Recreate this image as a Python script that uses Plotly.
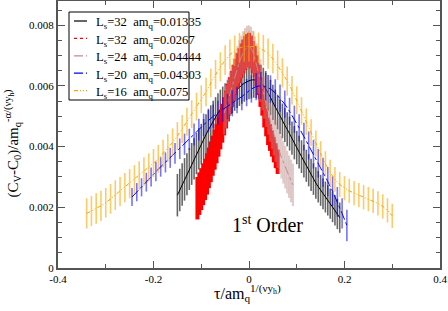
import plotly.graph_objects as go

# ---------------- data ----------------
black_x = [-0.150, -0.145, -0.140, -0.135, -0.130, -0.125, -0.120, -0.115, -0.110, -0.105,
           -0.100, -0.095, -0.090, -0.085, -0.080, -0.075, -0.070, -0.065, -0.060, -0.055,
           -0.050, -0.045, -0.040, -0.035, -0.030, -0.025, -0.020, -0.015, -0.010, -0.005,
           0.000, 0.005, 0.010, 0.015, 0.020, 0.025, 0.030, 0.035, 0.040, 0.045,
           0.050, 0.055, 0.060, 0.065, 0.070, 0.075, 0.080, 0.085, 0.090, 0.095,
           0.100, 0.105, 0.110, 0.115, 0.120, 0.125, 0.130, 0.135, 0.140, 0.145,
           0.150, 0.155, 0.160, 0.165, 0.170, 0.175, 0.180, 0.185, 0.190]
black_y = [0.00240, 0.00257, 0.00275, 0.00292, 0.00309, 0.00326, 0.00343, 0.00360, 0.00377, 0.00393,
           0.00408, 0.00424, 0.00440, 0.00455, 0.00470, 0.00485, 0.00498, 0.00511, 0.00523, 0.00534,
           0.00545, 0.00555, 0.00564, 0.00573, 0.00581, 0.00589, 0.00596, 0.00603, 0.00609, 0.00614,
           0.00617, 0.00620, 0.00621, 0.00620, 0.00616, 0.00610, 0.00601, 0.00590, 0.00577, 0.00562,
           0.00546, 0.00530, 0.00514, 0.00499, 0.00485, 0.00471, 0.00457, 0.00443, 0.00428, 0.00413,
           0.00397, 0.00382, 0.00367, 0.00352, 0.00337, 0.00322, 0.00307, 0.00293, 0.00280, 0.00268,
           0.00256, 0.00245, 0.00234, 0.00223, 0.00212, 0.00201, 0.00190, 0.00178, 0.00166]
black_err = [0.00070, 0.00070, 0.00070, 0.00070, 0.00069, 0.00069, 0.00069, 0.00068, 0.00068, 0.00068,
             0.00067, 0.00067, 0.00067, 0.00066, 0.00066, 0.00066, 0.00065, 0.00065, 0.00065, 0.00064,
             0.00064, 0.00064, 0.00063, 0.00063, 0.00063, 0.00062, 0.00062, 0.00062, 0.00061, 0.00061,
             0.00061, 0.00061, 0.00060, 0.00060, 0.00060, 0.00060, 0.00059, 0.00059, 0.00059, 0.00058,
             0.00058, 0.00058, 0.00057, 0.00057, 0.00057, 0.00056, 0.00056, 0.00056, 0.00055, 0.00055,
             0.00055, 0.00054, 0.00054, 0.00054, 0.00053, 0.00053, 0.00053, 0.00052, 0.00052, 0.00052,
             0.00051, 0.00051, 0.00051, 0.00050, 0.00050, 0.00050, 0.00050, 0.00050, 0.00050]

red_x = [-0.108, -0.104, -0.100, -0.096, -0.092, -0.088, -0.084, -0.080, -0.076, -0.072,
         -0.068, -0.064, -0.060, -0.056, -0.052, -0.048, -0.044, -0.040, -0.036, -0.032,
         -0.028, -0.024, -0.020, -0.016, -0.012, -0.008, -0.004, 0.000, 0.004, 0.008,
         0.012, 0.016, 0.020, 0.024, 0.028, 0.032, 0.036, 0.040, 0.044, 0.048,
         0.052, 0.056, 0.060]
red_y = [0.00230, 0.00245, 0.00260, 0.00276, 0.00292, 0.00310, 0.00330, 0.00350, 0.00370, 0.00390,
         0.00410, 0.00432, 0.00455, 0.00477, 0.00500, 0.00522, 0.00545, 0.00568, 0.00590, 0.00610,
         0.00630, 0.00650, 0.00667, 0.00683, 0.00697, 0.00708, 0.00716, 0.00720, 0.00712, 0.00695,
         0.00680, 0.00650, 0.00620, 0.00580, 0.00550, 0.00510, 0.00480, 0.00450, 0.00430, 0.00410,
         0.00390, 0.00370, 0.00350]
red_err = [0.00070, 0.00070, 0.00069, 0.00069, 0.00068, 0.00068, 0.00067, 0.00067, 0.00066, 0.00066,
           0.00065, 0.00065, 0.00064, 0.00064, 0.00063, 0.00062, 0.00062, 0.00061, 0.00060, 0.00060,
           0.00059, 0.00058, 0.00058, 0.00057, 0.00056, 0.00056, 0.00055, 0.00055, 0.00054, 0.00053,
           0.00052, 0.00051, 0.00050, 0.00049, 0.00048, 0.00047, 0.00046, 0.00045, 0.00044, 0.00043,
           0.00042, 0.00041, 0.00040]

brown_x = [-0.052, -0.048, -0.044, -0.040, -0.036, -0.032, -0.028, -0.024, -0.020, -0.016,
           -0.012, -0.008, -0.004, 0.000, 0.004, 0.008, 0.012, 0.016, 0.020, 0.024,
           0.028, 0.032, 0.036, 0.040, 0.044, 0.048, 0.052, 0.056, 0.060, 0.064,
           0.068, 0.072, 0.076, 0.080, 0.084, 0.088, 0.092]
brown_y = [0.00510, 0.00532, 0.00555, 0.00577, 0.00600, 0.00622, 0.00642, 0.00662, 0.00680, 0.00696,
           0.00710, 0.00721, 0.00728, 0.00730, 0.00725, 0.00712, 0.00693, 0.00670, 0.00645, 0.00618,
           0.00590, 0.00562, 0.00535, 0.00510, 0.00486, 0.00463, 0.00441, 0.00420, 0.00400, 0.00382,
           0.00365, 0.00348, 0.00332, 0.00316, 0.00301, 0.00287, 0.00274]
brown_err = [0.00070, 0.00070, 0.00070, 0.00070, 0.00070, 0.00070, 0.00070, 0.00070, 0.00070, 0.00070,
             0.00070, 0.00070, 0.00070, 0.00070, 0.00070, 0.00070, 0.00070, 0.00070, 0.00070, 0.00070,
             0.00070, 0.00070, 0.00070, 0.00070, 0.00070, 0.00070, 0.00070, 0.00070, 0.00070, 0.00070,
             0.00070, 0.00070, 0.00070, 0.00070, 0.00070, 0.00070, 0.00070]

blue_x = [-0.245, -0.235, -0.225, -0.215, -0.205, -0.195, -0.185, -0.175, -0.165, -0.155,
          -0.145, -0.135, -0.125, -0.115, -0.105, -0.095, -0.085, -0.075, -0.065, -0.055,
          -0.045, -0.035, -0.025, -0.015, -0.005, 0.005, 0.015, 0.025, 0.035, 0.045,
          0.055, 0.065, 0.075, 0.085, 0.095, 0.105, 0.115, 0.125, 0.135, 0.145,
          0.155, 0.165, 0.175, 0.185, 0.195, 0.205]
blue_y = [0.00234, 0.00250, 0.00266, 0.00283, 0.00300, 0.00318, 0.00333, 0.00348, 0.00363, 0.00378,
          0.00393, 0.00408, 0.00424, 0.00440, 0.00456, 0.00472, 0.00487, 0.00500, 0.00512, 0.00522,
          0.00532, 0.00543, 0.00554, 0.00565, 0.00578, 0.00590, 0.00598, 0.00601, 0.00598, 0.00590,
          0.00577, 0.00560, 0.00540, 0.00516, 0.00490, 0.00462, 0.00433, 0.00404, 0.00375, 0.00345,
          0.00315, 0.00285, 0.00253, 0.00218, 0.00180, 0.00140]
blue_err = [0.00030, 0.00030, 0.00030, 0.00031, 0.00031, 0.00032, 0.00032, 0.00033, 0.00033, 0.00034,
            0.00034, 0.00035, 0.00035, 0.00036, 0.00036, 0.00037, 0.00038, 0.00039, 0.00040, 0.00041,
            0.00042, 0.00043, 0.00044, 0.00045, 0.00045, 0.00045, 0.00045, 0.00045, 0.00045, 0.00045,
            0.00045, 0.00045, 0.00045, 0.00045, 0.00045, 0.00045, 0.00046, 0.00046, 0.00047, 0.00047,
            0.00048, 0.00048, 0.00049, 0.00049, 0.00050, 0.00052]

orange_x = [-0.34, -0.33, -0.32, -0.31, -0.30, -0.29, -0.28, -0.27, -0.26, -0.25,
            -0.24, -0.23, -0.22, -0.21, -0.20, -0.19, -0.18, -0.17, -0.16, -0.15,
            -0.14, -0.13, -0.12, -0.11, -0.10, -0.09, -0.08, -0.07, -0.06, -0.05,
            -0.04, -0.03, -0.02, -0.01, 0.00, 0.01, 0.02, 0.03, 0.04, 0.05,
            0.06, 0.07, 0.08, 0.09, 0.10, 0.11, 0.12, 0.13, 0.14, 0.15,
            0.16, 0.17, 0.18, 0.19, 0.20, 0.21, 0.22, 0.23, 0.24, 0.25,
            0.26, 0.27, 0.28, 0.29, 0.30]
orange_y = [0.00180, 0.00188, 0.00196, 0.00205, 0.00215, 0.00228, 0.00240, 0.00252, 0.00265, 0.00278,
            0.00292, 0.00305, 0.00318, 0.00332, 0.00346, 0.00360, 0.00377, 0.00395, 0.00414, 0.00435,
            0.00458, 0.00482, 0.00507, 0.00532, 0.00556, 0.00580, 0.00610, 0.00638, 0.00663, 0.00685,
            0.00703, 0.00716, 0.00725, 0.00730, 0.00731, 0.00730, 0.00726, 0.00718, 0.00706, 0.00690,
            0.00668, 0.00643, 0.00616, 0.00586, 0.00553, 0.00518, 0.00482, 0.00446, 0.00410, 0.00375,
            0.00343, 0.00315, 0.00292, 0.00275, 0.00263, 0.00254, 0.00247, 0.00240, 0.00233, 0.00227,
            0.00221, 0.00213, 0.00203, 0.00190, 0.00172]
orange_err = [0.00050, 0.00050, 0.00050, 0.00050, 0.00049, 0.00049, 0.00049, 0.00048, 0.00048, 0.00048,
              0.00047, 0.00047, 0.00047, 0.00046, 0.00046, 0.00046, 0.00046, 0.00046, 0.00046, 0.00046,
              0.00046, 0.00046, 0.00046, 0.00046, 0.00046, 0.00047, 0.00047, 0.00048, 0.00048, 0.00049,
              0.00050, 0.00050, 0.00050, 0.00050, 0.00050, 0.00050, 0.00050, 0.00050, 0.00050, 0.00049,
              0.00049, 0.00048, 0.00048, 0.00047, 0.00046, 0.00045, 0.00044, 0.00044, 0.00043, 0.00043,
              0.00042, 0.00042, 0.00041, 0.00041, 0.00040, 0.00040, 0.00040, 0.00040, 0.00040, 0.00040,
              0.00040, 0.00040, 0.00040, 0.00040, 0.00040]

series_names = ["L<sub>s</sub>=32\u00a0\u00a0am<sub>q</sub>=0.01335",
                "L<sub>s</sub>=32\u00a0\u00a0am<sub>q</sub>=0.0267",
                "L<sub>s</sub>=24\u00a0\u00a0am<sub>q</sub>=0.04444",
                "L<sub>s</sub>=20\u00a0\u00a0am<sub>q</sub>=0.04303",
                "L<sub>s</sub>=16\u00a0\u00a0am<sub>q</sub>=0.075"]

x_tickvals = [-0.4, -0.2, 0.0, 0.2, 0.4]
x_ticktext = ["-0.4", "-0.2", "0", "0.2", "0.4"]
y_tickvals = [0.0, 0.002, 0.004, 0.006, 0.008]
y_ticktext = ["0", "0.002", "0.004", "0.006", "0.008"]

# ---------------- figure ----------------
SERIF = "Liberation Serif, Times New Roman, serif"
W, H = 448, 311
ML, MR, MT, MB = 58, 8, 1, 43
PW, PH = W - ML - MR, H - MT - MB


def px_to_paper_x(px):
    return (px - ML) / PW


def px_to_paper_y(py):
    return (H - MB - py) / PH


styles = [
    dict(line=dict(color="black", width=1, dash="solid"), err="rgba(0,0,0,0.6)", th=1.6),
    dict(line=dict(color="red", width=1, dash="dot"), err="rgba(255,0,0,1)", th=4),
    dict(line=dict(color="#bc8f8f", width=1, dash="dashdot"), err="rgba(188,143,143,0.45)", th=2.2),
    dict(line=dict(color="blue", width=1, dash="dashdot"), err="rgba(0,0,255,0.55)", th=1.6),
    dict(line=dict(color="#ffa500", width=1, dash="4px,2px,1px,2px,1px,2px"), err="rgba(255,165,0,0.6)", th=1.6),
]
data = [(black_x, black_y, black_err), (red_x, red_y, red_err), (brown_x, brown_y, brown_err),
        (blue_x, blue_y, blue_err), (orange_x, orange_y, orange_err)]

fig = go.Figure()
for (xs, ys, es), st, nm in zip(data, styles, series_names):
    fig.add_trace(go.Scatter(
        x=xs, y=ys, mode="lines", name=nm, line=st["line"], showlegend=False,
        error_y=dict(type="data", array=es, visible=True, color=st["err"],
                     thickness=st["th"], width=0),
    ))

axis_common = dict(
    showline=True, linecolor="#555555", linewidth=2, mirror="ticks",
    ticks="inside", ticklen=7, tickwidth=1, tickcolor="#555555",
    showgrid=False, zeroline=False, automargin=False,
    tickfont=dict(family=SERIF, size=11, color="black"),
)

fig.update_layout(
    width=W, height=H,
    margin=dict(l=ML, r=MR, t=MT, b=MB),
    paper_bgcolor="white", plot_bgcolor="white",
    font=dict(family=SERIF, color="black"),
    showlegend=False,
    xaxis=dict(range=[-0.4, 0.4], tickvals=x_tickvals, ticktext=x_ticktext,
               minor=dict(dtick=0.1, ticklen=4, ticks="inside", tickcolor="#555555"),
               **axis_common),
    yaxis=dict(range=[0, 0.0088], tickvals=y_tickvals, ticktext=y_ticktext,
               minor=dict(dtick=0.0005, ticklen=4, ticks="inside", tickcolor="#555555"),
               **axis_common),
)

# ---- legend box (compact, drawn as layout decoration) ----
LEG_L, LEG_T, LEG_R, LEG_B = 69, 12, 189, 100
ROW0, ROW_H = 21, 17.4
fig.add_shape(type="rect", xref="paper", yref="paper",
              x0=px_to_paper_x(LEG_L), x1=px_to_paper_x(LEG_R),
              y0=px_to_paper_y(LEG_B), y1=px_to_paper_y(LEG_T),
              line=dict(color="black", width=1), fillcolor="white", layer="above")
for i, (st, nm) in enumerate(zip(styles, series_names)):
    cy = ROW0 + i * ROW_H
    fig.add_shape(type="line", xref="paper", yref="paper",
                  x0=px_to_paper_x(74), x1=px_to_paper_x(87),
                  y0=px_to_paper_y(cy), y1=px_to_paper_y(cy),
                  line=dict(color=st["line"]["color"], width=1.2, dash=st["line"]["dash"]),
                  layer="above")
    fig.add_annotation(x=px_to_paper_x(94), y=px_to_paper_y(cy + 2.5), xref="paper", yref="paper",
                       text=nm, showarrow=False, xanchor="left", yanchor="middle",
                       font=dict(family=SERIF, size=12.6, color="black"))

# axis titles
fig.add_annotation(x=0.497, y=-0.045, xref="paper", yref="paper",
                   text="τ/am<sub>q</sub><sup>1/(νy<sub>h</sub>)</sup>", showarrow=False,
                   xanchor="center", yanchor="top",
                   font=dict(family=SERIF, size=16, color="black"))
fig.add_annotation(x=-0.119, y=0.468, xref="paper", yref="paper",
                   text="(C<sub>V</sub>-C<sub>0</sub>)/am<sub>q</sub><sup>-α/(νy<sub>h</sub>)</sup>",
                   showarrow=False, textangle=-90,
                   xanchor="center", yanchor="middle",
                   font=dict(family=SERIF, size=15, color="black"))

fig.add_annotation(x=-0.04, y=0.00145, xref="x", yref="y",
                   text="1<sup>st</sup> Order", showarrow=False,
                   xanchor="left", yanchor="middle",
                   font=dict(family=SERIF, size=20, color="black"))

fig.write_html("out.html", config={"displayModeBar": False},
               post_script="document.body.style.margin='0';document.body.style.overflow='hidden';")
